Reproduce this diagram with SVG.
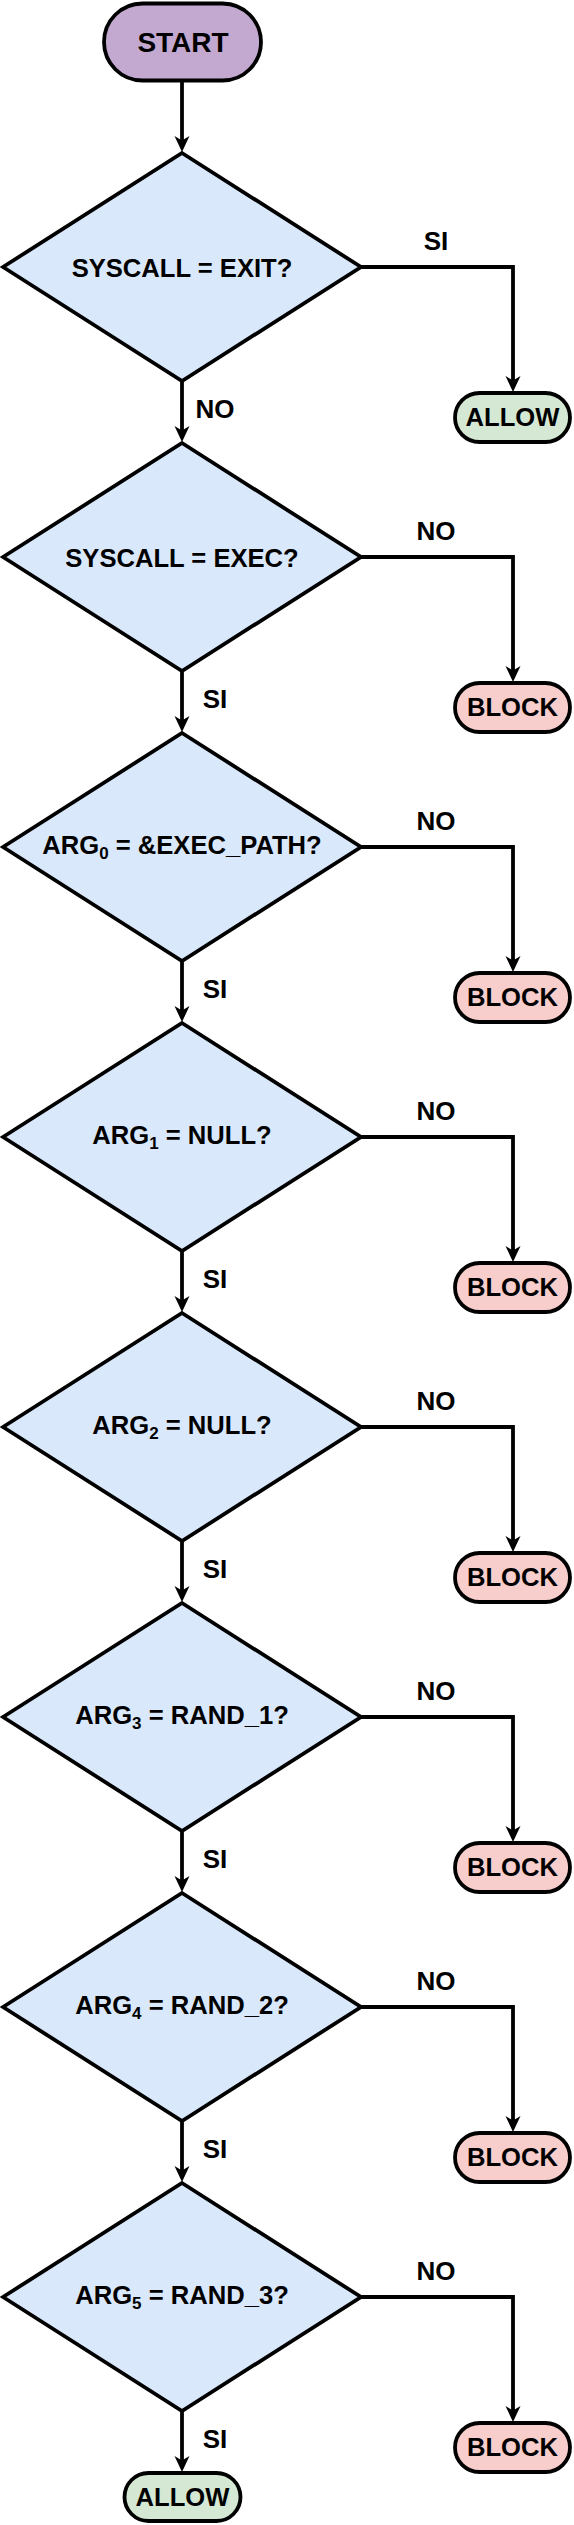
<svg xmlns="http://www.w3.org/2000/svg" width="574" height="2525" viewBox="0 0 574 2525">
<style>
.t{font-family:"Liberation Sans",Arial,Helvetica,sans-serif;font-weight:bold;fill:#000;text-anchor:middle}
.dt{font-size:25.6px}
.lb{font-size:26px}
.sub{font-size:17px}
.dia{fill:#dae8fc;stroke:#000;stroke-width:3.8;stroke-linejoin:miter}
.allow{fill:#d5e8d4;stroke:#000;stroke-width:3.8}
.block{fill:#f8cecc;stroke:#000;stroke-width:3.8}
.start{fill:#c3a9d0;stroke:#000;stroke-width:3.8}
.e{fill:none;stroke:#000;stroke-width:3.8;marker-end:url(#ah)}
</style>
<defs>
<marker id="ah" markerUnits="userSpaceOnUse" markerWidth="17" markerHeight="16" viewBox="0 0 17 16" refX="12" refY="7.5" orient="auto">
<path d="M0,0 L16,7.5 L0,15 L4.5,7.5 Z" fill="#000"/>
</marker>
</defs>
<g id="connectors">
<path class="e" d="M182,81 V148"/>
<path class="e" d="M361,267 H513 V388"/>
<path class="e" d="M182,381 V438"/>
<path class="e" d="M361,557 H513 V678"/>
<path class="e" d="M182,671 V728"/>
<path class="e" d="M361,847 H513 V968"/>
<path class="e" d="M182,961 V1018"/>
<path class="e" d="M361,1137 H513 V1258"/>
<path class="e" d="M182,1251 V1308"/>
<path class="e" d="M361,1427 H513 V1548"/>
<path class="e" d="M182,1541 V1598"/>
<path class="e" d="M361,1717 H513 V1838"/>
<path class="e" d="M182,1831 V1888"/>
<path class="e" d="M361,2007 H513 V2128"/>
<path class="e" d="M182,2121 V2178"/>
<path class="e" d="M361,2297 H513 V2418"/>
<path class="e" d="M182,2411 V2468"/>
<text class="t lb" x="436" y="250">SI</text>
<text class="t lb" x="215" y="418">NO</text>
<text class="t lb" x="436" y="540">NO</text>
<text class="t lb" x="215" y="708">SI</text>
<text class="t lb" x="436" y="830">NO</text>
<text class="t lb" x="215" y="998">SI</text>
<text class="t lb" x="436" y="1120">NO</text>
<text class="t lb" x="215" y="1288">SI</text>
<text class="t lb" x="436" y="1410">NO</text>
<text class="t lb" x="215" y="1578">SI</text>
<text class="t lb" x="436" y="1700">NO</text>
<text class="t lb" x="215" y="1868">SI</text>
<text class="t lb" x="436" y="1990">NO</text>
<text class="t lb" x="215" y="2158">SI</text>
<text class="t lb" x="436" y="2280">NO</text>
<text class="t lb" x="215" y="2448">SI</text>
</g>
<g id="start">
<rect class="start" x="104" y="3.5" width="157" height="77" rx="38.5" ry="38.5"/>
<text class="t" x="183" y="52" style="font-size:28px">START</text>
</g>
<g id="d1">
<polygon class="dia" points="182,153 361,267 182,381 3,267"/>
<text class="t dt" x="182" y="276.5">SYSCALL = EXIT?</text>
</g>
<g id="allow1">
<rect class="allow" x="455" y="393" width="115" height="49" rx="24.5" ry="24.5"/>
<text class="t dt" x="512.5" y="426">ALLOW</text>
</g>
<g id="d2">
<polygon class="dia" points="182,443 361,557 182,671 3,557"/>
<text class="t dt" x="182" y="566.5">SYSCALL = EXEC?</text>
</g>
<g id="block2">
<rect class="block" x="455" y="683" width="115" height="49" rx="24.5" ry="24.5"/>
<text class="t dt" x="512.5" y="716">BLOCK</text>
</g>
<g id="d3">
<polygon class="dia" points="182,733 361,847 182,961 3,847"/>
<text class="t dt" x="182" y="854">ARG<tspan class="sub" dy="5">0</tspan><tspan dy="-5"> = &amp;EXEC_PATH?</tspan></text>
</g>
<g id="block3">
<rect class="block" x="455" y="973" width="115" height="49" rx="24.5" ry="24.5"/>
<text class="t dt" x="512.5" y="1006">BLOCK</text>
</g>
<g id="d4">
<polygon class="dia" points="182,1023 361,1137 182,1251 3,1137"/>
<text class="t dt" x="182" y="1144">ARG<tspan class="sub" dy="5">1</tspan><tspan dy="-5"> = NULL?</tspan></text>
</g>
<g id="block4">
<rect class="block" x="455" y="1263" width="115" height="49" rx="24.5" ry="24.5"/>
<text class="t dt" x="512.5" y="1296">BLOCK</text>
</g>
<g id="d5">
<polygon class="dia" points="182,1313 361,1427 182,1541 3,1427"/>
<text class="t dt" x="182" y="1434">ARG<tspan class="sub" dy="5">2</tspan><tspan dy="-5"> = NULL?</tspan></text>
</g>
<g id="block5">
<rect class="block" x="455" y="1553" width="115" height="49" rx="24.5" ry="24.5"/>
<text class="t dt" x="512.5" y="1586">BLOCK</text>
</g>
<g id="d6">
<polygon class="dia" points="182,1603 361,1717 182,1831 3,1717"/>
<text class="t dt" x="182" y="1724">ARG<tspan class="sub" dy="5">3</tspan><tspan dy="-5"> = RAND_1?</tspan></text>
</g>
<g id="block6">
<rect class="block" x="455" y="1843" width="115" height="49" rx="24.5" ry="24.5"/>
<text class="t dt" x="512.5" y="1876">BLOCK</text>
</g>
<g id="d7">
<polygon class="dia" points="182,1893 361,2007 182,2121 3,2007"/>
<text class="t dt" x="182" y="2014">ARG<tspan class="sub" dy="5">4</tspan><tspan dy="-5"> = RAND_2?</tspan></text>
</g>
<g id="block7">
<rect class="block" x="455" y="2133" width="115" height="49" rx="24.5" ry="24.5"/>
<text class="t dt" x="512.5" y="2166">BLOCK</text>
</g>
<g id="d8">
<polygon class="dia" points="182,2183 361,2297 182,2411 3,2297"/>
<text class="t dt" x="182" y="2304">ARG<tspan class="sub" dy="5">5</tspan><tspan dy="-5"> = RAND_3?</tspan></text>
</g>
<g id="block8">
<rect class="block" x="455" y="2423" width="115" height="49" rx="24.5" ry="24.5"/>
<text class="t dt" x="512.5" y="2456">BLOCK</text>
</g>
<g id="allow2">
<rect class="allow" x="124.5" y="2473" width="116" height="48" rx="24" ry="24"/>
<text class="t dt" x="182.5" y="2506">ALLOW</text>
</g>
</svg>
